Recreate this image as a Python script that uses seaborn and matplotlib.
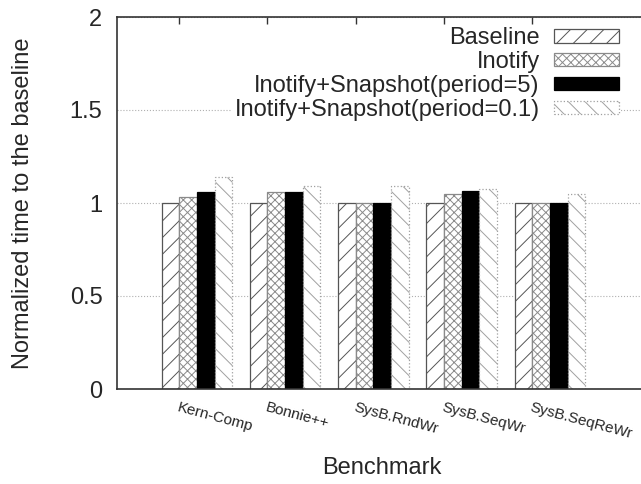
import matplotlib
matplotlib.use("Agg")
import matplotlib.pyplot as plt
import seaborn as sns
import pandas as pd

benchmarks = ["Kern-Comp", "Bonnie++", "SysB.RndWr", "SysB.SeqWr", "SysB.SeqReWr"]
series_names = ["Baseline", "Inotify", "Inotify+Snapshot(period=5)", "Inotify+Snapshot(period=0.1)"]
baseline = [1.00, 1.00, 1.00, 1.00, 1.00]
inotify = [1.03, 1.06, 1.00, 1.05, 1.00]
snap5 = [1.06, 1.06, 1.00, 1.065, 1.00]
snap01 = [1.14, 1.09, 1.09, 1.075, 1.05]
yticks = [0, 0.5, 1, 1.5, 2]
ytick_labels = ["0", "0.5", "1", "1.5", "2"]

rows = []
for name, vals in zip(series_names, [baseline, inotify, snap5, snap01]):
    for b, v in zip(benchmarks, vals):
        rows.append({"Benchmark": b, "value": v, "series": name})
df = pd.DataFrame(rows)

sns.set_style("white")
plt.rcParams["font.family"] = ["Liberation Sans", "DejaVu Sans"]
plt.rcParams["hatch.linewidth"] = 0.7

W, H = 641, 484
fig = plt.figure(figsize=(W / 100, H / 100), dpi=100)
unit = 88.25
left_px, bottom_px, top_px = 117, 389, 17
xmin, xmax = -0.905, 5.3
ax = fig.add_axes([left_px / W, (H - bottom_px) / H,
                   (xmax - xmin) * unit / W, (bottom_px - top_px) / H])

sns.barplot(data=df, x="Benchmark", y="value", hue="series", order=benchmarks,
            hue_order=series_names, palette=["white", "white", "black", "white"],
            width=0.8, gap=0, saturation=1, ax=ax, legend=False, errorbar=None)

styles = [
    dict(hatch="//", edgecolor="#555555", linestyle="-"),
    dict(hatch="xxxx", edgecolor="#8a8a8a", linestyle="-"),
    dict(hatch=None, edgecolor="black", linestyle="-"),
    dict(hatch="\\\\", edgecolor="#a0a0a0", linestyle=":"),
]
for cont, st in zip(ax.containers, styles):
    for p in cont.patches:
        if st["hatch"]:
            p.set_hatch(st["hatch"])
        p.set_edgecolor(st["edgecolor"])
        p.set_linestyle(st["linestyle"])
        p.set_linewidth(0.9)

ax.set_xlim(xmin, xmax)
ax.set_ylim(0, 2)
ax.set_yticks(yticks)
ax.set_yticklabels(ytick_labels, fontsize=17)
ax.set_xticks([i - 0.2 for i in range(len(benchmarks))])
ax.set_xticklabels(benchmarks, fontsize=11)
for lbl in ax.get_xticklabels():
    lbl.set_rotation(-15)
    lbl.set_ha("left")
    lbl.set_va("top")
    lbl.set_rotation_mode("anchor")
ax.tick_params(axis="x", bottom=False, top=True, direction="in", length=5,
               width=1, color="#333333", pad=8, labelbottom=True, labeltop=False)
ax.tick_params(axis="y", left=False, length=0, pad=10.5)

ax.set_axisbelow(True)
ax.yaxis.grid(True, linestyle=":", color="#b0b0b0", linewidth=0.8)
ax.xaxis.grid(False)
for s in ["top", "left", "bottom"]:
    ax.spines[s].set_visible(True)
    ax.spines[s].set_color("#333333")
    ax.spines[s].set_linewidth(1.2)

ax.set_ylabel("Normalized time to the baseline", fontsize=17)
ax.yaxis.set_label_coords((34 - left_px) / ((xmax - xmin) * unit), 0.5)
ax.set_xlabel("Benchmark", fontsize=17)
ax.xaxis.label.set_va("center")
ax.xaxis.set_label_coords((382 - left_px) / ((xmax - xmin) * unit),
                          (bottom_px - 468) / (bottom_px - top_px))

handles = [cont.patches[0] for cont in ax.containers]
leg = ax.legend(handles, series_names, loc="upper right",
                bbox_to_anchor=(633 / W, 1 - 13 / H), bbox_transform=fig.transFigure,
                markerfirst=False, fontsize=17, frameon=True, framealpha=1,
                edgecolor="none", borderpad=0.1, labelspacing=0.08,
                handlelength=2.75, handleheight=0.5, handletextpad=0.6,
                fancybox=False)

fig.savefig("out.png", dpi=100)
